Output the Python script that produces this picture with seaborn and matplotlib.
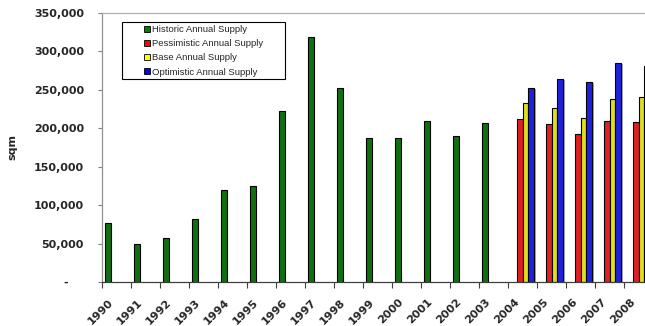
import matplotlib
matplotlib.use("Agg")
import matplotlib.pyplot as plt
import matplotlib.patheffects as pe
import matplotlib.transforms as mtransforms
from matplotlib.patches import Patch, Rectangle
from matplotlib.ticker import FixedLocator, FuncFormatter
import pandas as pd
import seaborn as sns

# ---- data -------------------------------------------------------------
years = [str(y) for y in range(1990, 2009)]

historic_years = [str(y) for y in range(1990, 2004)]
historic = [77000, 50000, 57000, 82000, 120000, 125000, 223000,
            319000, 253000, 187000, 188000, 210000, 190000, 207000]

forecast_years = ["2004", "2005", "2006", "2007", "2008"]
pessimistic = [212000, 205000, 192000, 209000, 208000]
base = [233000, 226000, 214000, 238000, 241000]
optimistic = [252000, 264000, 260000, 285000, 281000]

series = ["Historic Annual Supply", "Pessimistic Annual Supply",
          "Base Annual Supply", "Optimistic Annual Supply"]
colors = ["#008000", "#FF0000", "#FFFF00", "#0000FF"]

y_ticks = [0, 50000, 100000, 150000, 200000, 250000, 300000, 350000]

# ---- long-form table ---------------------------------------------------
rows = []
for yr, v in zip(historic_years, historic):
    rows.append((yr, series[0], v))
for vals, name in zip([pessimistic, base, optimistic], series[1:]):
    for yr, v in zip(forecast_years, vals):
        rows.append((yr, name, v))
df = pd.DataFrame(rows, columns=["year", "series", "sqm"])

# ---- figure -----------------------------------------------------------
sns.set_style("white")
plt.rcParams["font.family"] = ["DejaVu Sans"]

W, H, DPI = 645, 326, 100
fig = plt.figure(figsize=(W / DPI, H / DPI), dpi=DPI)

left_px, top_px, bottom_px = 102, 13, 282
slot_px = 29
ax = fig.add_axes([left_px / W, 1 - bottom_px / H,
                   slot_px * len(years) / W, (bottom_px - top_px) / H])

sns.barplot(data=df, x="year", y="sqm", hue="series", order=years,
            hue_order=series, palette=dict(zip(series, colors)),
            width=0.8, dodge=True, edgecolor="black", linewidth=0.8,
            errorbar=None, legend=False, ax=ax)

shadow = [pe.SimplePatchShadow(offset=(1.2, -0.8), shadow_rgbFace="#808080",
                               alpha=0.7), pe.Normal()]
for p in ax.patches:
    p.set_path_effects(shadow)

# ---- axes styling -----------------------------------------------------
ax.set_xlim(-0.5, len(years) - 0.5)
ax.set_ylim(0, 350000)
ax.set_xlabel("")

ax.yaxis.set_major_locator(FixedLocator(y_ticks))
ax.yaxis.set_major_formatter(
    FuncFormatter(lambda v, _: "-    " if v == 0 else f"{int(v):,}"))
ax.tick_params(axis="y", which="major", left=True, length=3, width=0.8,
               color="#808080", pad=10, labelsize=8)
for lab in ax.get_yticklabels():
    lab.set_fontweight("bold")

ax.set_xticks(range(len(years)))
ax.set_xticklabels(years, rotation=45, ha="right", va="top",
                   rotation_mode="anchor", fontweight="bold", fontsize=8)
ax.tick_params(axis="x", which="major", length=0, pad=0)
ax.xaxis.set_minor_locator(FixedLocator([k - 0.5 for k in range(len(years) + 1)]))
ax.tick_params(axis="x", which="minor", bottom=True, length=4, width=0.8,
               color="#404040")
offset = mtransforms.ScaledTranslation(-8 / DPI, -15 / DPI, fig.dpi_scale_trans)
for lab in ax.get_xticklabels():
    lab.set_transform(lab.get_transform() + offset)

ax.set_ylabel("sqm", fontweight="bold", fontsize=8)
ax.yaxis.set_label_coords((17 - left_px) / (slot_px * len(years)), 0.5)

for side, col in [("top", "#b0b0b0"), ("left", "#909090"),
                  ("right", "#b0b0b0"), ("bottom", "#404040")]:
    ax.spines[side].set_color(col)
    ax.spines[side].set_linewidth(0.9)
ax.grid(False)

# ---- legend -----------------------------------------------------------
handles = [Patch(facecolor=c, edgecolor="black", linewidth=0.6) for c in colors]
fig.legend(handles, series, loc="upper left",
           bbox_to_anchor=(144 / W, 1 - 25 / H), frameon=False,
           borderpad=0, borderaxespad=0, handlelength=0.65, handleheight=0.65,
           handletextpad=0.25, labelspacing=0.55,
           prop={"family": "Liberation Sans", "size": 6.8})
fig.patches.append(Rectangle((122 / W, 1 - 79 / H), 163 / W, 57 / H,
                             transform=fig.transFigure, fill=False,
                             edgecolor="black", linewidth=0.8))

fig.savefig("out.png", dpi=DPI)
